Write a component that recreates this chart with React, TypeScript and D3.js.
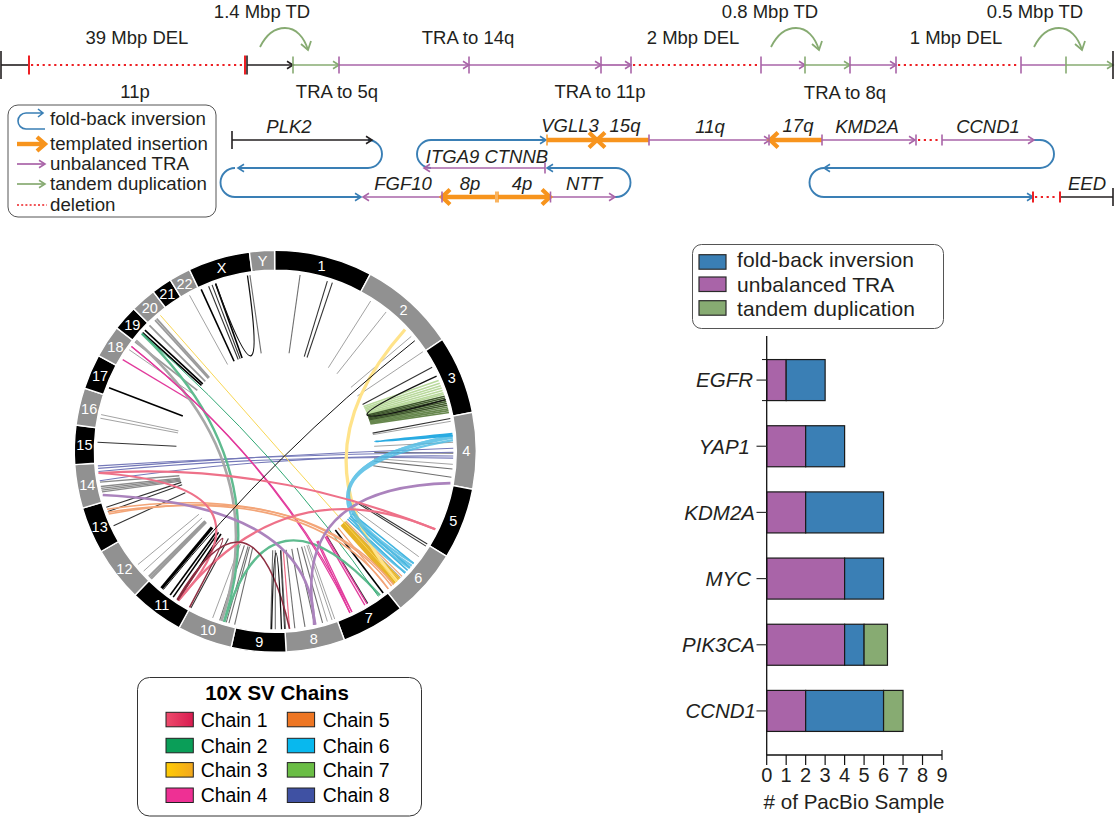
import React from 'react';
import * as d3 from 'd3';

const FONT = '"Liberation Sans", Arial, sans-serif';
const INK = '#231f20';
const PURPLE = '#a964a8';
const BLUE = '#3a7fb5';
const GREEN = '#87ab72';
const RED = '#ed2024';
const ORANGE = '#f7941d';

// ---- bar chart data ----
const genes = ['EGFR', 'YAP1', 'KDM2A', 'MYC', 'PIK3CA', 'CCND1'];
const traCounts = [1, 2, 2, 4, 4, 2];
const foldCounts = [2, 2, 4, 2, 1, 4];
const tdCounts = [0, 0, 0, 0, 1.2, 1];
const countTicks = [0, 1, 2, 3, 4, 5, 6, 7, 8, 9];
const barLegend = ['fold-back inversion', 'unbalanced TRA', 'tandem duplication'];

// ---- circos data: degrees clockwise from the top ----
const chromNames = ['1', '2', '3', '4', '5', '6', '7', '8', '9', '10', '11', '12', '13', '14', '15', '16', '17', '18', '19', '20', '21', '22', 'X', 'Y'];
const chromEnds = [28.2, 56.2, 78.8, 100.9, 121.5, 141.5, 159.9, 176.9, 192.7, 208.6, 224.3, 240.1, 253.6, 266.2, 277.5, 288.3, 298.4, 307.9, 315.2, 322.6, 328.5, 334.7, 352.6, 359.8];

// unassigned SVs, drawn as short spokes
const paleSpokes = [32.4, 38.5, 49.8, 56, 80.3, 87.1, 94.2, 126.3, 131, 135.2, 163, 161.4, 160.5, 200.6, 230.5, 227.7, 281.9, 280.7, 304.8, 331.2];
const greySpokes = [8, 90.6, 95.7, 98.4, 173.7, 170.4, 167.2, 164.6, 198.2, 196, 195.1, 193.2, 181.5, 180, 176.7, 351.8];
const thickGreySpokes = [225.3, 224.7, 224.2, 308, 315, 317.5, 318.2];
const darkSpokes = [17, 18.7, 61.8, 79.4, 121.4, 122.2, 148.7, 208.3, 177, 272.9, 251.7, 250.2, 245.3, 338, 339.2];
const blackSpokes = [142.7, 213.3, 215, 216.2, 290.9, 311.8, 312.9, 335.4, 340.4];
const heavyBlackSpokes = [219.7];
const skewedGreySpokes = [260, 258.6, 258, 257.4, 256.8];

// coloured spokes from the 10X chains
const chain1Spokes = [175.4];
const chain3Spokes = [135.7, 136.3, 137, 137.6, 138.2];
const chain4Spokes = [155.2, 154.5, 149.8, 149, 301];
const chain5Spokes = [140.6, 134.6];
const chain6Spokes = [133.2, 130.8, 129, 132];
const chain7PaleSpokes = [66.6, 67.5, 68.4, 69.2, 70, 70.8, 71.3];
const chain7DarkSpokes = [72, 72.6, 73.2, 73.8, 74.4, 75, 75.6, 76.2, 76.8, 77.4];

// chords: [from, to, control radius, control angle]
const chain1Ribbons = [[116, 263, 13.5, 222], [116, 213, 17.5, 149], [263, 213, 35, 167]];
const chain1DarkLinks = [[213.5, 175.4, 30, 228], [213.2, 208.8, 26, 212]];
const chain2Ribbons = [[311.4, 196.7, 10, 180], [196.7, 144, 23, 195]];
const chain2Hairlines = [[311.4, 144.6, 4, 110]];
const greyRibbons = [[308.5, 197.6, 13, 185]];
const chain3Ribbons = [[46.8, 136.9, 17, 109]];
const chain3Hairlines = [[319.8, 137, 3, 50]];
const chain4Links = [[306.1, 155.2, 14.5, 164], [306.1, 154.5, 14.5, 164]];
const chain5Ribbons = [[250, 140.6, 47, 130], [251, 139.2, 44, 130], [249.4, 138.4, 41, 130]];
const chain6Ribbons = [[85, 130, 21, 200], [85.6, 131, 21, 200], [86.4, 129, 24, 200], [85, 133, 20, 200]];
const chain6Loops = [[84.3, 84.9, 22, 83]];
const chain8Links = [[89, 264.5, 3, 180], [90.3, 265.3, 3, 180], [91.5, 260.5, 3, 180], [92.2, 263.5, 3, 180]];
const purpleRibbons = [[100.3, 167, 38, 161.6], [255.8, 167.4, 66, 145]];
const blackLinks = [[51.6, 219, 0, 0]];
const blackLoops = [[65, 73.1, 20, 62], [340.4, 351, 20, 345], [181.2, 178, 26, 179.5]];

const chainNames = ['Chain 1', 'Chain 2', 'Chain 3', 'Chain 4', 'Chain 5', 'Chain 6', 'Chain 7', 'Chain 8'];
const chainFills = ['url(#chain1)', '#0a9e58', 'url(#chain3)', '#ee3094', '#ee7623', '#08b8ee', '#6abd45', '#3f51a3'];

// ---- rearrangement schematic: positions along each track ----
const purpleArrows = [[339, 469, 'a'], [469, 601, 'a'], [601, 631, 'a'], [761, 805, 'a'], [850, 896, 'a'], [649, 770, 'b'], [822, 915, 'b'], [942, 1034, 'b'], [545, 424, 'c'], [442, 363, 'd'], [550, 615, 'd']];
const purpleLines = [[1021, 1066, 'a']];
const greenArrows = [[293, 339, 'a'], [805, 850, 'a'], [1066, 1113, 'a']];
const blackArrows = [[247, 293, 'a'], [232, 372, 'b']];
const blackLines = [[1, 29, 'a'], [1060, 1113, 'd']];
const blueArrows = [[366, 238, 'c'], [235, 361, 'd'], [616, 547, 'c'], [431, 546, 'b'], [1040, 824, 'c'], [824, 1033, 'd']];
const blueLines = [[1034, 1040, 'b'], [368, 372, 'b'], [366, 368, 'c'], [615, 616, 'd']];
const orangeArrows = [[547, 597, 'b'], [649, 597, 'b'], [822, 770, 'b'], [495, 442, 'd'], [498, 550, 'd']];
const deletions = [[29, 245, 'a'], [631, 761, 'a'], [896, 1021, 'a'], [916, 942, 'b'], [1033, 1060, 'd']];
const redTicks = [[29, 'a'], [245, 'a'], [1033, 'd'], [1060, 'd']];
const purpleTicks = [[339, 'a'], [469, 'a'], [601, 'a'], [631, 'a'], [761, 'a'], [850, 'a'], [896, 'a'], [1021, 'a'], [649, 'b'], [769, 'b'], [822, 'b'], [916, 'b'], [942, 'b'], [545, 'c'], [550.5, 'd'], [442, 'd']];
const greenTicks = [[293, 'a'], [805, 'a'], [1066, 'a']];
const blackTicks = [[247, 'a']];
const endTicks = [[1, 'a'], [1113, 'a'], [232, 'b'], [1113, 'd']];
const orangeTicks = [[547, 'b'], [496, 'd'], [498, 'd']];
const rightFolds = [[368, 'b', 'c'], [616, 'c', 'd'], [1040, 'b', 'c']];
const leftFolds = [[235, 'c', 'd'], [431, 'b', 'c'], [824, 'c', 'd']];
const tandemHops = [260, 771, 1034];

const eventLabels: [string, number, number][] = [
  ['39 Mbp DEL', 137, 37], ['1.4 Mbp TD', 262, 11], ['TRA to 14q', 468, 37], ['2 Mbp DEL', 693, 37],
  ['0.8 Mbp TD', 770, 11], ['1 Mbp DEL', 956, 37], ['0.5 Mbp TD', 1035, 11],
  ['11p', 135, 91], ['TRA to 5q', 337, 91], ['TRA to 11p', 600, 91], ['TRA to 8q', 845, 92],
];
const geneLabels: [string, number, number][] = [
  ['PLK2', 289, 126], ['VGLL3', 570, 125], ['15q', 625, 125], ['11q', 710, 126], ['17q', 798, 125],
  ['KMD2A', 867, 126], ['CCND1', 988, 126], ['ITGA9 CTNNB', 487, 156],
  ['FGF10', 403, 183], ['8p', 470, 183], ['4p', 522, 183], ['NTT', 584, 183], ['EED', 1087, 183],
];
const schematicLegend = ['fold-back inversion', 'templated insertion', 'unbalanced TRA', 'tandem duplication', 'deletion'];

// ---- scales ----
const trackY = d3.scaleOrdinal<string, number>().domain(['a', 'b', 'c', 'd']).range([65, 140, 168, 197]);
const xTrack = d3.scaleLinear().domain([0, 1116]).range([0, 1116]);
const xCount = d3.scaleLinear().domain([0, 9]).range([766.7, 942]);
const yGene = d3.scaleBand().domain(genes).range([347, 744]).paddingInner(0.38).paddingOuter(0.19);
const deg = d3.scaleLinear().domain([0, 360]).range([0, 2 * Math.PI]);

const CX = 275.3;
const CY = 451.3;
const RIM = 178;
const SPOKE_END = 99;

const chevron = (x: number, y: number, dir: number, len: number, half: number) =>
  `M${x - dir * len},${y - half}L${x},${y}L${x - dir * len},${y + half}`;

const Arrow = ({ from, to, y, color, width = 1.7, len = 6, half = 3.8, headWidth = 1.6 }: any) => {
  const dir = to > from ? 1 : -1;
  return (
    <g stroke={color} fill="none">
      <line x1={from} x2={to - dir} y1={y} y2={y} strokeWidth={width} />
      <path d={chevron(to, y, dir, len, half)} strokeWidth={headWidth} />
    </g>
  );
};

// row a ticks stand taller than the ones in the lower tracks
const Ticks = ({ list, color, top = 9, low = 5.5, width = 1.6 }: any) => (
  <g stroke={color} strokeWidth={width}>
    {list.map(([x, row]: any, i: number) => {
      const half = row === 'a' ? top : low;
      return <line key={i} x1={xTrack(x)} x2={xTrack(x)} y1={trackY(row) - half} y2={trackY(row) + half} />;
    })}
  </g>
);

const foldPath = (x: number, top: number, bottom: number, side: number) => {
  const p = d3.path();
  const r = (bottom - top) / 2;
  p.arc(x, top + r, r, -Math.PI / 2, Math.PI / 2, side < 0);
  return p.toString();
};

const linkPath = ([a0, a1, cr, ca]: number[]) => {
  const s = d3.pointRadial(deg(a0), RIM);
  const e = d3.pointRadial(deg(a1), RIM);
  const c = d3.pointRadial(deg(ca), cr);
  const p = d3.path();
  p.moveTo(s[0], s[1]);
  p.quadraticCurveTo(c[0], c[1], e[0], e[1]);
  return p.toString();
};

const spokePath = (a: number, skew = 0) => {
  const s = d3.pointRadial(deg(a), RIM);
  const e = d3.pointRadial(deg(a + skew), SPOKE_END);
  return d3.line()([s as [number, number], e as [number, number]]) as string;
};

const Spokes = ({ angles, color, width, opacity = 1, skew = 0 }: any) => (
  <g stroke={color} strokeWidth={width} opacity={opacity} fill="none">
    {angles.map((a: number) => <path key={a} d={spokePath(a, skew)} />)}
  </g>
);

const Links = ({ links, color, width, opacity = 1 }: any) => (
  <g stroke={color} strokeWidth={width} opacity={opacity} fill="none">
    {links.map((l: number[], i: number) => <path key={i} d={linkPath(l)} />)}
  </g>
);

const Circos = () => {
  const arc = d3.arc<any>().innerRadius(181).outerRadius(201);
  return (
    <g transform={`translate(${CX},${CY})`}>
      <Spokes angles={paleSpokes} color="#a3a3a3" width={1} />
      <Spokes angles={greySpokes} color="#6f6f6f" width={1.1} />
      <Spokes angles={thickGreySpokes} color="#9a9a9a" width={1.8} />
      <Spokes angles={skewedGreySpokes} color="#8a8a8a" width={1.3} skew={-4.3} />
      <Spokes angles={darkSpokes} color="#333" width={1.1} />
      <Spokes angles={blackSpokes} color="#000" width={1.6} />
      <Spokes angles={heavyBlackSpokes} color="#000" width={3.2} />
      <Spokes angles={chain7PaleSpokes} color="#b9d99c" width={1.6} skew={-3.5} />
      <Spokes angles={chain7DarkSpokes} color="#4d7330" width={1.6} skew={-3.5} opacity={0.85} />
      <Spokes angles={chain7DarkSpokes.slice(0, 6)} color="#1c2c10" width={0.6} skew={-3.5} />
      <Spokes angles={chain1Spokes} color="#ee6a85" width={1.2} />
      <Spokes angles={chain3Spokes} color="#e6b325" width={1.9} />
      <Spokes angles={chain4Spokes} color="#e23a9c" width={1.3} />
      <Spokes angles={chain5Spokes} color="#f0a070" width={1.1} />
      <Spokes angles={chain6Spokes} color="#3fb4e0" width={1.5} />
      <Links links={chain8Links} color="#7478b8" width={1.1} />
      <Links links={chain3Ribbons} color="#ffe38a" width={3.2} />
      <Links links={chain3Hairlines} color="#f8d653" width={1} />
      <Links links={chain6Ribbons} color="#52bde4" width={2.2} opacity={0.85} />
      <Links links={chain6Loops} color="#29abe2" width={2} />
      <Links links={greyRibbons} color="#a8a8a8" width={2.6} />
      <Links links={chain2Ribbons} color="#5fbb8f" width={2.4} />
      <Links links={chain2Hairlines} color="#2fa873" width={1} />
      <Links links={chain4Links} color="#e23a9c" width={1.2} />
      <Links links={chain5Ribbons} color="#f3a578" width={1.6} />
      <Links links={purpleRibbons} color="#ab83bd" width={2.6} />
      <Links links={chain1Ribbons} color="#ee7189" width={2.2} />
      <Links links={chain1DarkLinks} color="#8e2f42" width={1.6} />
      <Links links={blackLinks} color="#111" width={1} />
      <Links links={blackLoops} color="#111" width={1.3} />
      {chromNames.map((name, i) => {
        const start = i === 0 ? -0.2 : chromEnds[i - 1];
        const end = chromEnds[i];
        const datum = { startAngle: deg(start), endAngle: deg(end) };
        const [tx, ty] = arc.centroid(datum);
        const isBlack = name === 'X' || (name !== 'Y' && Number(name) % 2 === 1);
        return (
          <g key={name}>
            <path d={arc(datum) as string} fill={isBlack ? '#000' : '#919191'} stroke="#fff" strokeWidth={1.4} />
            <text x={tx} y={ty} dy="0.36em" textAnchor="middle" fill="#fff" fontSize={14.5}>{name}</text>
          </g>
        );
      })}
    </g>
  );
};

const Schematic = () => {
  const text = { fontSize: 18.5, fill: INK, textAnchor: 'middle' as const };
  return (
    <g>
      {eventLabels.map(([t, x, y]) => <text key={t} x={x} y={y} dy="0.36em" {...text}>{t}</text>)}
      {geneLabels.map(([t, x, y]) => <text key={t} x={x} y={y} dy="0.36em" {...text} fontStyle="italic">{t}</text>)}
      {deletions.map(([a, b, row]: any, i) => (
        <line key={i} x1={xTrack(a) + 2} x2={xTrack(b) - 2} y1={trackY(row)} y2={trackY(row)} stroke={RED} strokeWidth={2} strokeDasharray="2.2 3.6" />
      ))}
      {rightFolds.map(([x, t, b]: any, i) => <path key={i} d={foldPath(x, trackY(t), trackY(b), 1)} fill="none" stroke={BLUE} strokeWidth={1.9} />)}
      {leftFolds.map(([x, t, b]: any, i) => <path key={i} d={foldPath(x, trackY(t), trackY(b), -1)} fill="none" stroke={BLUE} strokeWidth={1.9} />)}
      {blueLines.map(([a, b, row]: any, i) => <line key={i} x1={a} x2={b} y1={trackY(row)} y2={trackY(row)} stroke={BLUE} strokeWidth={1.9} />)}
      {purpleLines.map(([a, b, row]: any, i) => <line key={i} x1={a} x2={b} y1={trackY(row)} y2={trackY(row)} stroke={PURPLE} strokeWidth={1.7} />)}
      {blackLines.map(([a, b, row]: any, i) => <line key={i} x1={a} x2={b} y1={trackY(row)} y2={trackY(row)} stroke={INK} strokeWidth={1.6} />)}
      {purpleArrows.map(([a, b, row]: any, i) => <Arrow key={i} from={xTrack(a)} to={xTrack(b)} y={trackY(row)} color={PURPLE} />)}
      {greenArrows.map(([a, b, row]: any, i) => <Arrow key={i} from={xTrack(a)} to={xTrack(b)} y={trackY(row)} color={GREEN} />)}
      {blackArrows.map(([a, b, row]: any, i) => <Arrow key={i} from={xTrack(a)} to={xTrack(b)} y={trackY(row)} color={INK} />)}
      {blueArrows.map(([a, b, row]: any, i) => <Arrow key={i} from={xTrack(a)} to={xTrack(b)} y={trackY(row)} color={BLUE} width={1.9} />)}
      {orangeArrows.map(([a, b, row]: any, i) => <Arrow key={i} from={xTrack(a)} to={xTrack(b)} y={trackY(row)} color={ORANGE} width={4.4} len={8} half={7.5} headWidth={4.2} />)}
      <Ticks list={redTicks} color={RED} top={9.5} width={2} />
      <Ticks list={purpleTicks} color={PURPLE} top={8.5} />
      <Ticks list={greenTicks} color={GREEN} top={8.5} />
      <Ticks list={orangeTicks} color={ORANGE} width={1.4} />
      <Ticks list={blackTicks} color={INK} top={9.5} />
      <Ticks list={endTicks} color={INK} top={14} low={9} />
      {tandemHops.map((x) => {
        const p = d3.path();
        p.moveTo(x, 47);
        p.bezierCurveTo(x + 8, 31, x + 18, 28, x + 25, 28);
        p.bezierCurveTo(x + 36, 28, x + 44, 37, x + 48, 50);
        return (
          <g key={x} fill="none" stroke={GREEN} strokeWidth={1.8}>
            <path d={p.toString()} />
            <path d={`M${x + 41},${44}L${x + 48},${50}L${x + 51},${41}`} />
          </g>
        );
      })}
      {/* legend */}
      <rect x={8} y={105} width={208} height={112} rx={10} fill="none" stroke="#555" strokeWidth={1} />
      {schematicLegend.map((t, i) => (
        <text key={t} x={50} y={[124.5, 150, 170, 190, 211][i]} fontSize={18.7} fill={INK}>{t}</text>
      ))}
      <path d={`M43,113L26,113A8,8 0 0 0 26,129L45,129M38,109L43,113L38,117`} fill="none" stroke={BLUE} strokeWidth={1.6} />
      <Arrow from={17} to={45} y={144} color={ORANGE} width={4.4} len={8} half={7} headWidth={4.2} />
      <Arrow from={17} to={45} y={164} color={PURPLE} />
      <Arrow from={17} to={45} y={184} color={GREEN} />
      <line x1={17} x2={47} y1={205} y2={205} stroke={RED} strokeWidth={1.7} strokeDasharray="2 2.2" />
    </g>
  );
};

const BarPanel = () => {
  const rows = genes.map((g, i) => ({ gene: g, tra: traCounts[i], fold: foldCounts[i], td: tdCounts[i] }));
  const series = d3.stack<any>().keys(['tra', 'fold', 'td'])(rows);
  const fills = [PURPLE, BLUE, GREEN];
  const labelEnds = [753, 750, 755, 751, 755, 756];
  const legendFills = [BLUE, PURPLE, GREEN];
  const band = yGene.bandwidth();
  const egfrTop = yGene('EGFR') as number;
  return (
    <g fill={INK}>
      <rect x={692.5} y={244.5} width={251} height={84} rx={9} fill="none" stroke="#555" strokeWidth={1} />
      {barLegend.map((t, i) => (
        <g key={t}>
          <rect x={699} y={[254.7, 277, 300.7][i]} width={27} height={14.5} fill={legendFills[i]} stroke="#2b2b2b" strokeWidth={1.2} />
          <text x={737} y={[266.7, 291.7, 316][i]} fontSize={21} letterSpacing={0.1}>{t}</text>
        </g>
      ))}
      {series.map((s, k) =>
        s.map((d, i) =>
          d[1] > d[0] ? (
            <rect key={`${k}-${i}`} x={xCount(d[0])} width={xCount(d[1]) - xCount(d[0])} y={yGene(genes[i])} height={band} fill={fills[k]} stroke="#1a1a1a" strokeWidth={1.2} />
          ) : null,
        ),
      )}
      <line x1={xCount(0)} x2={xCount(0)} y1={336} y2={755} stroke="#111" strokeWidth={1.3} />
      <line x1={xCount(0)} x2={xCount(9)} y1={755} y2={755} stroke="#111" strokeWidth={1.3} />
      <line x1={762} x2={xCount(0)} y1={egfrTop} y2={egfrTop} stroke="#111" strokeWidth={1} />
      <line x1={762} x2={xCount(0)} y1={egfrTop + band} y2={egfrTop + band} stroke="#111" strokeWidth={1} />
      {genes.map((g, i) => {
        const y = (yGene(g) as number) + band / 2;
        return (
          <g key={g}>
            <line x1={756.5} x2={xCount(0)} y1={y} y2={y} stroke="#333" strokeWidth={1.2} />
            <text x={labelEnds[i]} y={y} dy="0.36em" textAnchor="end" fontStyle="italic" fontSize={20.5}>{g}</text>
          </g>
        );
      })}
      {countTicks.map((t) => (
        <g key={t}>
          <line x1={xCount(t)} x2={xCount(t)} y1={t === 9 ? 750 : 755} y2={t === 9 ? 760 : 765} stroke="#111" strokeWidth={1.2} />
          <text x={xCount(t)} y={782} textAnchor="middle" fontSize={20}>{t}</text>
        </g>
      ))}
      <text x={854} y={809} textAnchor="middle" fontSize={20.6}>{'# of PacBio Sample'}</text>
    </g>
  );
};

const ChainLegend = () => {
  const rowY = [712.3, 738.3, 762.6, 788];
  const baseY = [726.8, 752.8, 776.8, 802.2];
  return (
    <g fill={INK}>
      <rect x={137.5} y={677.5} width={284} height={138.5} rx={12} fill="none" stroke="#333" strokeWidth={1} />
      <text x={277} y={700} textAnchor="middle" fontWeight="bold" fontSize={20.5} fill="#000">10X SV Chains</text>
      {chainNames.map((c, i) => {
        const col = i < 4 ? 0 : 1;
        const row = i % 4;
        return (
          <g key={c}>
            <rect x={col ? 287.3 : 166} y={rowY[row]} width={27.3} height={14.5} fill={chainFills[i]} stroke="#222" strokeWidth={1} />
            <text x={col ? 322.7 : 200.7} y={baseY[row]} fontSize={19.4} fill="#000">{c}</text>
          </g>
        );
      })}
    </g>
  );
};

export default function App() {
  return (
    <svg width={1116} height={817} viewBox="0 0 1116 817" style={{ position: 'absolute', left: 0, top: 0, fontFamily: FONT, background: '#fff' }}>
      <defs>
        <linearGradient id="chain1"><stop offset="0" stopColor="#ee4b6c" /><stop offset="1" stopColor="#d81b50" /></linearGradient>
        <linearGradient id="chain3"><stop offset="0" stopColor="#ffcc05" /><stop offset="1" stopColor="#f2a71e" /></linearGradient>
      </defs>
      <Schematic />
      <Circos />
      <ChainLegend />
      <BarPanel />
    </svg>
  );
}
